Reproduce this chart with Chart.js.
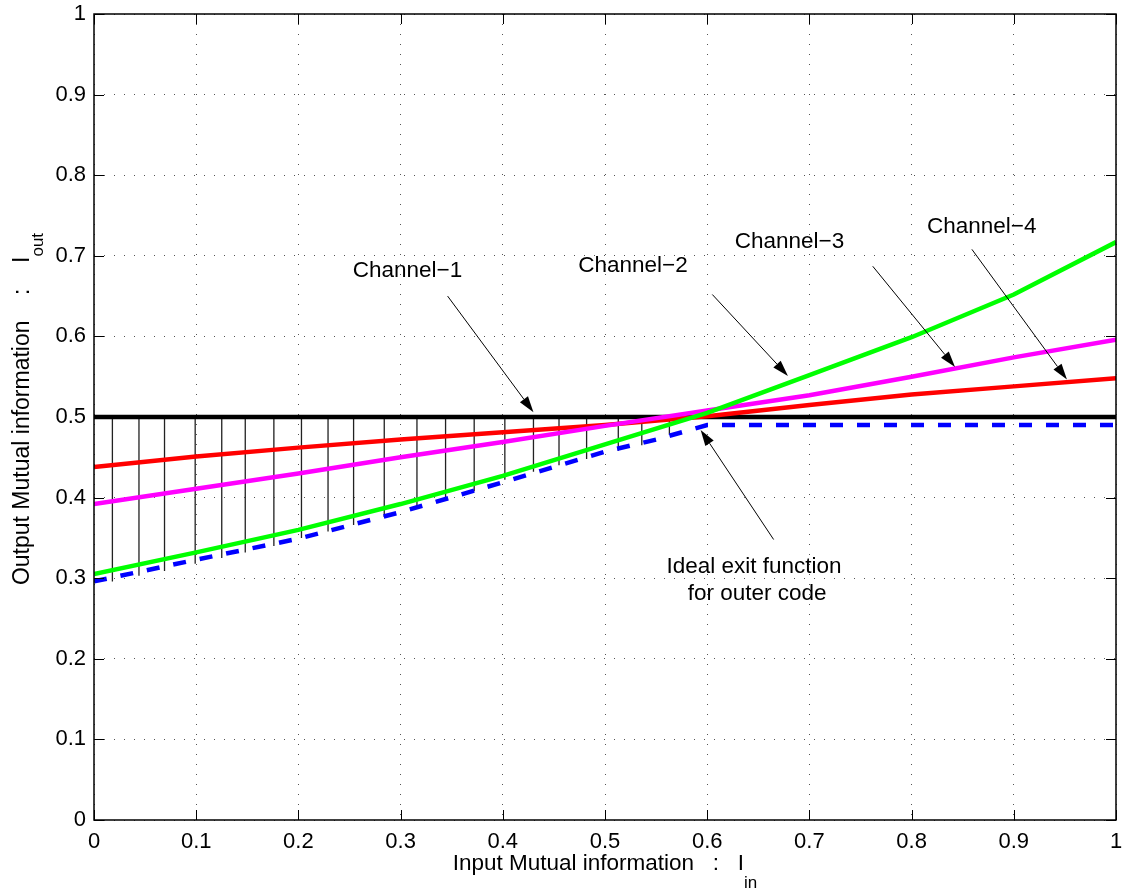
<!DOCTYPE html>
<html>
<head>
<meta charset="utf-8">
<script src="https://cdn.jsdelivr.net/npm/chart.js@4"></script>
<style>
  body { margin: 0; background: #fff; }
  #wrap { width: 1122px; height: 890px; }
</style>
</head>
<body>
<div id="wrap"><canvas id="exitChart" width="1122" height="890"></canvas></div>
<script>
// EXIT chart: channels vs ideal outer code

const tickValues = [0, 0.1, 0.2, 0.3, 0.4, 0.5, 0.6, 0.7, 0.8, 0.9, 1];
const tickLabels = ['0', '0.1', '0.2', '0.3', '0.4', '0.5', '0.6', '0.7', '0.8', '0.9', '1'];

const curveX = [0, 0.1, 0.2, 0.3, 0.4, 0.5, 0.6, 0.7, 0.8, 0.9, 1];
const channel1 = [0.5, 0.5, 0.5, 0.5, 0.5, 0.5, 0.5, 0.5, 0.5, 0.5, 0.5];
const channel2 = [0.305, 0.332, 0.360, 0.392, 0.427, 0.466, 0.505, 0.552, 0.599, 0.652, 0.717];
const channel3 = [0.392, 0.411, 0.430, 0.450, 0.469, 0.489, 0.508, 0.527, 0.550, 0.574, 0.596];
const channel4 = [0.438, 0.451, 0.462, 0.472, 0.481, 0.490, 0.501, 0.515, 0.528, 0.538, 0.548];

const outerX = [0, 0.1, 0.2, 0.3, 0.4, 0.45, 0.5, 0.55, 0.6, 1];
const outerCode = [0.296, 0.323, 0.349, 0.382, 0.419, 0.438, 0.457, 0.472, 0.490, 0.490];

// vertical hatching between channel-1 and the outer code curve
const hatchX = [0.018, 0.044, 0.069, 0.099, 0.125, 0.148, 0.176, 0.203, 0.229, 0.254, 0.284,
                0.316, 0.344, 0.372, 0.402, 0.430, 0.455, 0.482, 0.513, 0.536, 0.563];
const hatchBottom = [0.296, 0.303, 0.309, 0.318, 0.325, 0.332, 0.340, 0.350, 0.358, 0.366, 0.376,
                     0.386, 0.396, 0.408, 0.422, 0.432, 0.440, 0.448, 0.458, 0.465, 0.478];
const hatchTop = 0.5;

// text labels and arrows (data units)
const notes = [
  { lines: ['Channel\u22121'], x: 0.3067, y: 0.681, from: [0.346, 0.650], to: [0.430, 0.506] },
  { lines: ['Channel\u22122'], x: 0.5274, y: 0.687, from: [0.605, 0.652], to: [0.679, 0.551] },
  { lines: ['Channel\u22123'], x: 0.6805, y: 0.7175, from: [0.762, 0.687], to: [0.8425, 0.562] },
  { lines: ['Channel\u22124'], x: 0.8686, y: 0.7357, from: [0.859, 0.708], to: [0.952, 0.5465] },
  { lines: ['Ideal exit function', ' for outer code'], x: 0.6458, y: 0.314, from: [0.665, 0.348], to: [0.5936, 0.484] }
];

const FONT = '"Liberation Sans", Arial, Helvetica, sans-serif';

const pts = (xs, ys) => xs.map((v, i) => ({ x: v, y: ys[i] }));

const hatchPts = [];
hatchX.forEach((hx, i) => {
  hatchPts.push({ x: hx, y: hatchTop }, { x: hx, y: hatchBottom[i] }, { x: hx, y: null });
});

function arrow(ctx, x0, y0, x1, y1) {
  const ang = Math.atan2(y1 - y0, x1 - x0);
  const len = 16, half = 5;
  ctx.beginPath();
  ctx.moveTo(x0, y0);
  ctx.lineTo(x1 - Math.cos(ang) * len, y1 - Math.sin(ang) * len);
  ctx.stroke();
  ctx.beginPath();
  ctx.moveTo(x1, y1);
  ctx.lineTo(x1 - Math.cos(ang) * len - Math.sin(ang) * half, y1 - Math.sin(ang) * len + Math.cos(ang) * half);
  ctx.lineTo(x1 - Math.cos(ang) * len + Math.sin(ang) * half, y1 - Math.sin(ang) * len - Math.cos(ang) * half);
  ctx.closePath();
  ctx.fill();
}

const matlabAxes = {
  id: 'matlabAxes',
  afterDraw(chart) {
    const { ctx, chartArea: a, scales: { x, y } } = chart;
    ctx.save();

    // inward ticks on all four sides
    ctx.strokeStyle = '#000';
    ctx.lineWidth = 1;
    tickValues.forEach(v => {
      const px = Math.round(x.getPixelForValue(v)) + 0.5;
      const py = Math.round(y.getPixelForValue(v)) + 0.5;
      ctx.beginPath();
      ctx.moveTo(px, a.bottom); ctx.lineTo(px, a.bottom - 10);
      ctx.moveTo(px, a.top); ctx.lineTo(px, a.top + 10);
      ctx.moveTo(a.left, py); ctx.lineTo(a.left + 10, py);
      ctx.moveTo(a.right, py); ctx.lineTo(a.right - 10, py);
      ctx.stroke();
    });

    // axes box
    ctx.lineWidth = 1.5;
    ctx.strokeRect(a.left, a.top, a.right - a.left, a.bottom - a.top);

    // annotations
    ctx.fillStyle = '#000';
    ctx.lineWidth = 1;
    ctx.font = '22.5px ' + FONT;
    ctx.textAlign = 'center';
    ctx.textBaseline = 'middle';
    notes.forEach(n => {
      n.lines.forEach((t, k) => {
        ctx.fillText(t, x.getPixelForValue(n.x), y.getPixelForValue(n.y) + k * 26.5);
      });
      arrow(ctx, x.getPixelForValue(n.from[0]), y.getPixelForValue(n.from[1]),
                 x.getPixelForValue(n.to[0]), y.getPixelForValue(n.to[1]));
    });

    // x axis title with subscript
    ctx.textAlign = 'left';
    ctx.textBaseline = 'alphabetic';
    const xMain = 'Input Mutual information   :   I', xSub = 'in';
    ctx.font = '22.5px ' + FONT;
    const wxm = ctx.measureText(xMain).width;
    ctx.font = '17px ' + FONT;
    const wxs = ctx.measureText(xSub).width;
    const xStart = (a.left + a.right) / 2 - (wxm + wxs) / 2;
    ctx.font = '22.5px ' + FONT;
    ctx.fillText(xMain, xStart, 870);
    ctx.font = '17px ' + FONT;
    ctx.fillText(xSub, xStart + wxm, 888);

    // y axis title with subscript
    const yMain = 'Output Mutual information    :    I', ySub = 'out';
    ctx.font = '23px ' + FONT;
    const wym = ctx.measureText(yMain).width;
    ctx.font = '17px ' + FONT;
    const wys = ctx.measureText(ySub).width;
    ctx.translate(29, (a.top + a.bottom) / 2 - 8);
    ctx.rotate(-Math.PI / 2);
    const yStart = -(wym + wys) / 2;
    ctx.font = '23px ' + FONT;
    ctx.fillText(yMain, yStart, 0);
    ctx.font = '17px ' + FONT;
    ctx.fillText(ySub, yStart + wym, 14);

    ctx.restore();
  }
};

const axisCommon = {
  type: 'linear',
  min: 0,
  max: 1,
  afterBuildTicks: s => { s.ticks = tickValues.map(v => ({ value: v })); },
  ticks: {
    callback: (v, i) => tickLabels[i],
    font: { family: FONT, size: 22 },
    color: '#000',
    autoSkip: false,
    maxRotation: 0
  },
  grid: { color: '#555', lineWidth: 1, drawTicks: false },
  border: { display: false, dash: [1, 9] }
};

new Chart(document.getElementById('exitChart').getContext('2d'), {
  type: 'line',
  data: {
    datasets: [
      { label: 'Ideal outer code', data: pts(outerX, outerCode), borderColor: '#0000ff',
        borderWidth: 4.5, borderDash: [13, 14], order: 0 },
      { label: 'Channel-2', data: pts(curveX, channel2), borderColor: '#00ff00', borderWidth: 4.5, order: 1 },
      { label: 'Channel-3', data: pts(curveX, channel3), borderColor: '#ff00ff', borderWidth: 4.5, order: 1 },
      { label: 'Channel-4', data: pts(curveX, channel4), borderColor: '#ff0000', borderWidth: 4.5, order: 1 },
      { label: 'Channel-1', data: pts(curveX, channel1), borderColor: '#000000', borderWidth: 4.5, order: 2 },
      { label: 'hatch', data: hatchPts, borderColor: '#222', borderWidth: 1.3, spanGaps: false, order: 3 }
    ]
  },
  options: {
    responsive: false,
    animation: false,
    layout: { padding: { top: 14, right: 6, left: 0, bottom: 0 } },
    elements: { point: { radius: 0 }, line: { tension: 0 } },
    plugins: { legend: { display: false }, tooltip: { enabled: false } },
    scales: {
      x: Object.assign({}, axisCommon, {
        ticks: Object.assign({}, axisCommon.ticks, { padding: 9 }),
        afterFit: s => { s.height = 70; s.paddingLeft = 0; s.paddingRight = 0; }
      }),
      y: Object.assign({}, axisCommon, {
        ticks: Object.assign({}, axisCommon.ticks, { padding: 8 }),
        afterFit: s => { s.width = 94; s.paddingTop = 0; s.paddingBottom = 0; }
      })
    }
  },
  plugins: [matlabAxes]
});
</script>
</body>
</html>
